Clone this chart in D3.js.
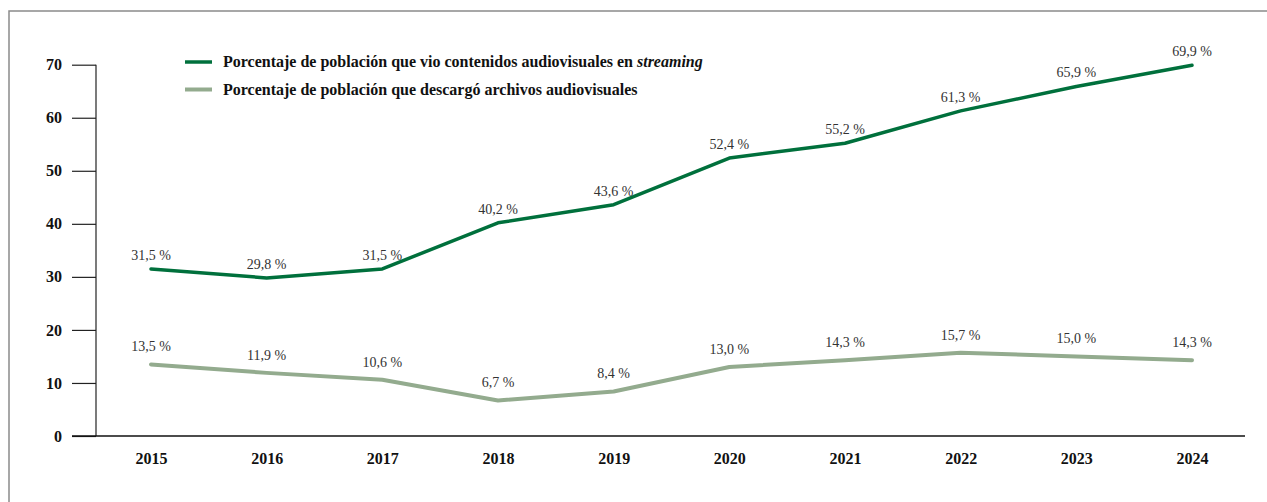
<!DOCTYPE html>
<html>
<head>
<meta charset="utf-8">
<script src="https://cdn.jsdelivr.net/npm/d3@7"></script>
<style>
    body { margin: 0; background: #fff; }
    svg { display: block; }
    svg text { font-family: 'Liberation Serif', 'DejaVu Serif', serif; }
</style>
</head>
<body>
<svg id="chart" width="1267" height="502"></svg>
<script>
/* ------------------------ DATA ------------------------ */
let years = ['2015', '2016', '2017', '2018', '2019', '2020', '2021', '2022', '2023', '2024']
let streaming = [31.5, 29.8, 31.5, 40.2, 43.6, 52.4, 55.2, 61.3, 65.9, 69.9]
let descargas = [13.5, 11.9, 10.6, 6.7, 8.4, 13.0, 14.3, 15.7, 15.0, 14.3]
let yTicks = [0, 10, 20, 30, 40, 50, 60, 70]

let series = [
    { values: streaming, color: '#00703c', width: 3.5, dy: -9 },
    { values: descargas, color: '#93ab8e', width: 4, dy: -13 }
]

const SERIF = 'Liberation Serif'

/* ----------------------- CHART ------------------------ */
let svg = d3.select('#chart')

// marco
svg.append('rect')
    .attr('x', 9).attr('y', 11)
    .attr('width', 1400).attr('height', 700)
    .attr('fill', 'none').attr('stroke', '#8a8a8a').attr('stroke-width', 1.5)

let x = d3.scalePoint().domain(years).range([151, 1192])
let y = d3.scaleLinear().domain([0, 70]).range([436, 64.7])

// eje y
let yAxis = svg.append('g')
    .attr('transform', 'translate(96,0)')
    .call(d3.axisLeft(y).tickValues(yTicks).tickSize(24).tickPadding(10).tickFormat(d3.format('d')))
yAxis.attr('font-family', SERIF)
yAxis.select('.domain').attr('d', 'M0,' + y(70) + 'V' + y(0)).attr('stroke', '#222').attr('stroke-width', 1.2)
yAxis.selectAll('.tick line').attr('stroke', '#222').attr('stroke-width', 1.2)
yAxis.selectAll('.tick text')
    .attr('font-size', 16).attr('font-weight', 'bold').attr('fill', '#111')

// eje x
let xAxis = svg.append('g')
    .attr('transform', 'translate(0,' + y(0) + ')')
    .call(d3.axisBottom(x).tickSize(0).tickPadding(17))
xAxis.attr('font-family', SERIF)
xAxis.select('.domain').attr('d', 'M72,0H1245').attr('stroke', '#111').attr('stroke-width', 1.5)
xAxis.selectAll('.tick text')
    .attr('font-size', 16).attr('font-weight', 'bold').attr('fill', '#111')

// lineas
let line = d3.line()
    .x((d, i) => x(years[i]))
    .y(d => y(d))

for (let s of series) {
    svg.append('path')
        .datum(s.values)
        .attr('d', line)
        .attr('fill', 'none')
        .attr('stroke', s.color)
        .attr('stroke-width', s.width)
        .attr('stroke-linejoin', 'round')
        .attr('stroke-linecap', 'round')

    svg.append('g').selectAll('text')
        .data(s.values)
        .enter().append('text')
        .attr('x', (d, i) => x(years[i]))
        .attr('y', d => y(d) + s.dy)
        .attr('text-anchor', 'middle')
        .attr('font-family', SERIF)
        .attr('font-size', 14)
        .attr('fill', '#333')
        .text(d => d3.format('.1f')(d).replace('.', ',') + ' %')
}

/* ----------------------- LEGEND ----------------------- */
let legend = svg.append('g').attr('transform', 'translate(185,62)')

let row1 = legend.append('g')
row1.append('line').attr('x1', 0).attr('x2', 27).attr('stroke', series[0].color).attr('stroke-width', 3.5)
let t1 = row1.append('text').attr('x', 38).attr('y', 5)
    .attr('font-family', SERIF)
    .attr('font-size', 16).attr('font-weight', 'bold').attr('fill', '#111')
t1.append('tspan').text('Porcentaje de población que vio contenidos audiovisuales en ')
t1.append('tspan').attr('font-style', 'italic').text('streaming')

let row2 = legend.append('g').attr('transform', 'translate(0,27.5)')
row2.append('line').attr('x1', 0).attr('x2', 27).attr('stroke', series[1].color).attr('stroke-width', 4)
row2.append('text').attr('x', 38).attr('y', 5)
    .attr('font-family', SERIF)
    .attr('font-size', 16).attr('font-weight', 'bold').attr('fill', '#111')
    .text('Porcentaje de población que descargó archivos audiovisuales')
</script>
</body>
</html>
